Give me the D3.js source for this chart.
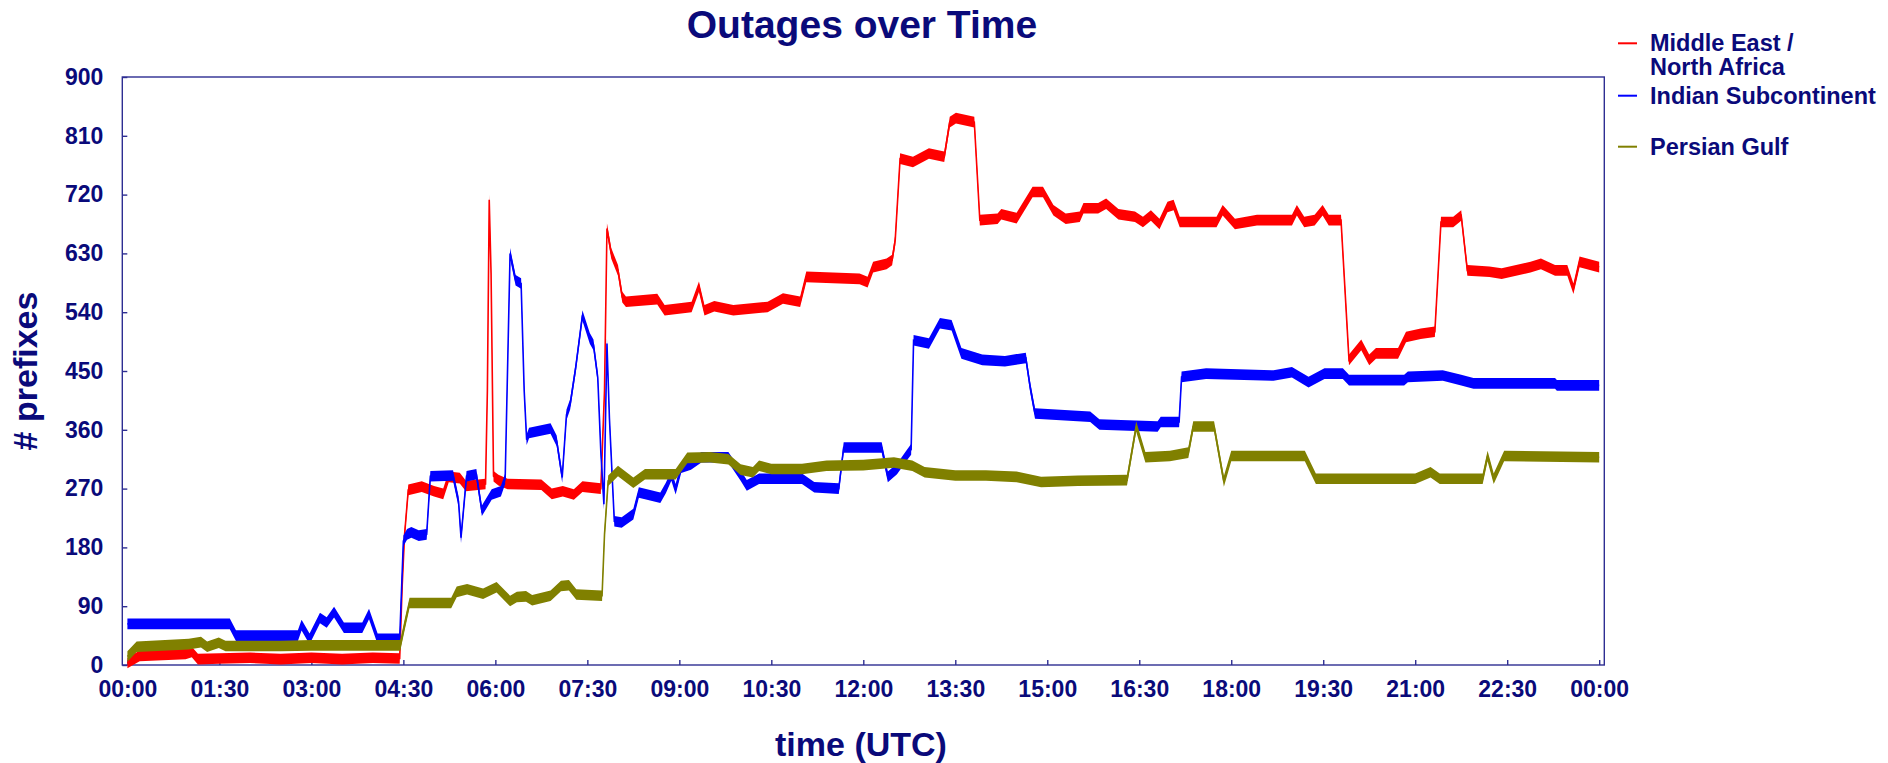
<!DOCTYPE html>
<html>
<head>
<meta charset="utf-8">
<script src="https://cdn.jsdelivr.net/npm/d3@7"></script>
<style>
    html, body { margin: 0; padding: 0; background: #fff; }
    .canvas text { font-family: "Liberation Sans", Arial, Helvetica, sans-serif; font-weight: bold; fill: #0a0a7a; }
</style>
</head>
<body>
<div class="canvas"></div>

<script>
    // time in hours (UTC), value = # prefixes
    const middleEast = [
        [0, 3], [0.2, 14], [0.95, 17], [1.05, 20], [1.15, 9], [1.5, 10], [2.0, 11], [2.5, 9], [3.0, 11],
        [3.5, 9], [4.0, 11], [4.44, 10], [4.48, 120], [4.52, 200], [4.58, 268], [4.8, 273], [5.0, 266],
        [5.15, 262], [5.24, 288], [5.42, 286], [5.52, 274], [5.84, 277], [5.87, 420], [5.9, 712], [5.93, 600],
        [5.97, 289], [6.05, 283], [6.2, 277], [6.75, 276], [6.92, 262], [7.1, 266], [7.28, 261], [7.42, 273],
        [7.72, 270], [7.78, 420], [7.82, 668], [7.89, 630], [8.0, 604], [8.07, 563], [8.13, 556], [8.64, 560],
        [8.76, 543], [9.2, 548], [9.32, 579], [9.41, 543], [9.57, 549], [9.88, 543], [10.44, 548], [10.69, 561],
        [10.97, 556], [11.07, 594], [11.94, 591], [12.07, 586], [12.16, 609], [12.38, 614], [12.47, 620],
        [12.52, 650], [12.6, 775], [12.81, 770], [13.07, 783], [13.32, 778], [13.41, 831], [13.51, 837],
        [13.81, 831], [13.9, 681], [14.19, 683], [14.25, 690], [14.5, 684], [14.76, 724], [14.93, 724],
        [15.1, 696], [15.3, 683], [15.53, 686], [15.59, 699], [15.83, 699], [15.96, 706], [16.16, 690],
        [16.43, 686], [16.56, 678], [16.69, 688], [16.83, 675], [16.96, 701], [17.06, 704], [17.16, 678],
        [17.76, 678], [17.86, 696], [18.06, 675], [18.42, 681], [18.99, 681], [19.07, 696], [19.19, 678],
        [19.36, 681], [19.49, 696], [19.59, 681], [19.79, 681], [19.92, 467], [20.12, 490], [20.25, 467],
        [20.36, 477], [20.72, 477], [20.85, 502], [21.09, 507], [21.32, 510], [21.42, 678], [21.62, 678],
        [21.75, 688], [21.85, 604], [22.21, 602], [22.41, 599], [22.88, 609], [23.05, 614], [23.28, 604],
        [23.48, 604], [23.58, 576], [23.68, 617], [24.0, 609]
    ];

    const indianSub = [
        [0, 63], [1.67, 63], [1.77, 45], [2.78, 45], [2.84, 61], [2.97, 40], [3.14, 72], [3.25, 65],
        [3.37, 81], [3.53, 57], [3.83, 57], [3.94, 78], [4.08, 40], [4.44, 40], [4.5, 190], [4.56, 200],
        [4.63, 203], [4.75, 198], [4.88, 200], [4.94, 289], [5.31, 290], [5.4, 250], [5.44, 195], [5.53, 289],
        [5.69, 292], [5.78, 236], [5.94, 261], [6.09, 266], [6.16, 285], [6.24, 630], [6.33, 589], [6.42, 584],
        [6.47, 420], [6.51, 345], [6.55, 355], [6.9, 362], [7.0, 343], [7.09, 287], [7.16, 383], [7.22, 399],
        [7.31, 455], [7.42, 535], [7.54, 500], [7.6, 490], [7.67, 440], [7.72, 326], [7.77, 246], [7.82, 492],
        [7.86, 378], [7.94, 220], [8.06, 218], [8.25, 231], [8.34, 264], [8.69, 256], [8.78, 271], [8.87, 290],
        [8.94, 269], [9.03, 302], [9.19, 307], [9.36, 318], [9.8, 318], [10.0, 290], [10.1, 275], [10.3, 285],
        [11.0, 285], [11.2, 272], [11.6, 270], [11.68, 333], [12.3, 333], [12.4, 288], [12.55, 300],
        [12.7, 320], [12.78, 330], [12.82, 497], [13.07, 492], [13.25, 523], [13.44, 520], [13.6, 477],
        [13.94, 467], [14.31, 465], [14.65, 470], [14.72, 426], [14.8, 385], [15.7, 380], [15.85, 368],
        [16.8, 365], [16.85, 372], [17.15, 372], [17.19, 441], [17.59, 446], [18.69, 443], [18.99, 448],
        [19.26, 433], [19.52, 446], [19.82, 446], [19.92, 436], [20.82, 436], [20.88, 441], [21.45, 443],
        [21.75, 436], [21.95, 431], [23.28, 431], [23.31, 428], [24.0, 428]
    ];

    const persianGulf = [
        [0, 13], [0.15, 28], [1.0, 32], [1.2, 35], [1.3, 28], [1.49, 34], [1.6, 29], [2.5, 29], [3.0, 30],
        [4.0, 30], [4.45, 30], [4.52, 61], [4.6, 95], [5.28, 95], [5.37, 112], [5.54, 116], [5.8, 109],
        [6.02, 119], [6.24, 98], [6.35, 104], [6.5, 105], [6.6, 99], [6.9, 106], [7.07, 121], [7.2, 122],
        [7.32, 108], [7.74, 106], [7.78, 200], [7.84, 282], [8.0, 297], [8.25, 279], [8.44, 292], [8.94, 292],
        [9.13, 317], [9.5, 318], [9.8, 315], [10.0, 299], [10.2, 295], [10.3, 305], [10.5, 300], [11.0, 300],
        [11.4, 305], [12.0, 306], [12.5, 310], [12.8, 305], [13.0, 295], [13.5, 290], [14.0, 290], [14.5, 288],
        [14.9, 280], [15.5, 282], [16.3, 283], [16.45, 365], [16.6, 318], [17.0, 320], [17.3, 325],
        [17.38, 365], [17.72, 365], [17.88, 281], [18.0, 320], [19.2, 320], [19.38, 285], [21.0, 285],
        [21.25, 295], [21.4, 285], [22.1, 285], [22.18, 320], [22.28, 285], [22.45, 320], [24.0, 318]
    ];

    const seriesNames = ["Middle East /\nNorth Africa", "Indian Subcontinent", "Persian Gulf"];
    const seriesColors = ["#ff0000", "#0000ff", "#808000"];
    const xTickValues = d3.range(0, 24.01, 1.5);
    const xTickLabels = ["00:00", "01:30", "03:00", "04:30", "06:00", "07:30", "09:00", "10:30", "12:00",
        "13:30", "15:00", "16:30", "18:00", "19:30", "21:00", "22:30", "00:00"];
    const yTickValues = [0, 90, 180, 270, 360, 450, 540, 630, 720, 810, 900];

    (function () {
        const width = 1888;
        const height = 763;
        const PLOT_LEFT = 122.3;
        const PLOT_RIGHT = 1604.3;
        const PLOT_TOP = 77;
        const PLOT_BOTTOM = 665;
        const BAND = 5.3;          // half thickness of the noisy trace
        const AXIS_COLOR = "#2e2e92";

        const svg = d3.select(".canvas").append("svg")
            .attr("width", width)
            .attr("height", height)
            .style("background", "#fff");

        const x = d3.scaleLinear().domain([-1 / 12, 24 + 1 / 12]).range([PLOT_LEFT, PLOT_RIGHT]);
        const y = d3.scaleLinear().domain([0, 900]).range([PLOT_BOTTOM, PLOT_TOP]);

        // frame
        svg.append("rect")
            .attr("x", PLOT_LEFT)
            .attr("y", PLOT_TOP)
            .attr("width", PLOT_RIGHT - PLOT_LEFT)
            .attr("height", PLOT_BOTTOM - PLOT_TOP)
            .attr("fill", "none")
            .attr("stroke", AXIS_COLOR)
            .attr("stroke-width", 1.4);

        const xAxis = svg.append("g")
            .attr("transform", "translate(0," + PLOT_BOTTOM + ")")
            .call(d3.axisBottom(x)
                .tickValues(xTickValues)
                .tickFormat(function (d, i) { return xTickLabels[i]; })
                .tickSize(-5)
                .tickPadding(16));

        const yAxis = svg.append("g")
            .attr("transform", "translate(" + PLOT_LEFT + ",0)")
            .call(d3.axisLeft(y)
                .tickValues(yTickValues)
                .tickSize(-5)
                .tickPadding(19));

        [xAxis, yAxis].forEach(function (g) {
            g.select(".domain").remove();
            g.selectAll(".tick line").attr("stroke", AXIS_COLOR).attr("stroke-width", 1.4);
            g.selectAll(".tick text").style("font-size", "23px").attr("fill", "#0a0a7a");
        });

        const allSeries = [middleEast, indianSub, persianGulf];

        const area = d3.area()
            .x(function (d) { return x(d[0]); })
            .y0(function (d) { return y(d[1]) + BAND; })
            .y1(function (d) { return y(d[1]) - BAND; });

        const line = d3.line()
            .x(function (d) { return x(d[0]); })
            .y(function (d) { return y(d[1]); });

        const traces = svg.append("g");
        allSeries.forEach(function (data, i) {
            traces.append("path")
                .attr("d", area(data))
                .attr("fill", seriesColors[i]);
            traces.append("path")
                .attr("d", line(data))
                .attr("fill", "none")
                .attr("stroke", seriesColors[i])
                .attr("stroke-width", 1.6);
        });

        // title and axis labels
        svg.append("text")
            .attr("x", 862)
            .attr("y", 38)
            .attr("text-anchor", "middle")
            .style("font-size", "39px")
            .text("Outages over Time");

        svg.append("text")
            .attr("x", 861)
            .attr("y", 756)
            .attr("text-anchor", "middle")
            .style("font-size", "34px")
            .text("time (UTC)");

        svg.append("text")
            .attr("transform", "translate(37,371) rotate(-90)")
            .attr("text-anchor", "middle")
            .style("font-size", "34px")
            .text("# prefixes");

        // legend
        const legendY = [43.3, 95.7, 146.7];
        const legend = svg.append("g");
        seriesNames.forEach(function (name, i) {
            legend.append("line")
                .attr("x1", 1618)
                .attr("x2", 1637)
                .attr("y1", legendY[i])
                .attr("y2", legendY[i])
                .attr("stroke", seriesColors[i])
                .attr("stroke-width", 2);
            const t = legend.append("text")
                .attr("x", 1650)
                .attr("y", legendY[i] + 8)
                .style("font-size", "23.5px");
            name.split("\n").forEach(function (part, j) {
                t.append("tspan")
                    .attr("x", 1650)
                    .attr("dy", j === 0 ? 0 : 24)
                    .text(part);
            });
        });
    })();
</script>
</body>
</html>
